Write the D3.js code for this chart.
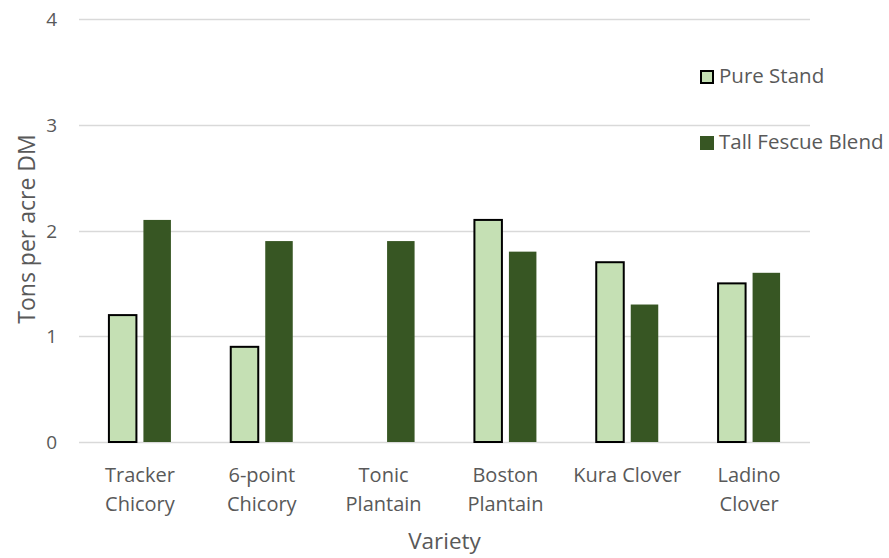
<!DOCTYPE html>
<html>
<head>
<meta charset="utf-8">
<script src="https://cdn.jsdelivr.net/npm/d3@7"></script>
<style>
  html, body { margin: 0; padding: 0; background: #fff; }
  svg { display: block; }
  text { font-family: "Open Sans", "Noto Sans", sans-serif; fill: #595959; }
</style>
</head>
<body>
<svg id="chart" width="889" height="558"></svg>
<script>
// Forage yield by variety, tons of dry matter per acre
const varieties = [
  ["Tracker", "Chicory"],
  ["6-point", "Chicory"],
  ["Tonic", "Plantain"],
  ["Boston", "Plantain"],
  ["Kura Clover"],
  ["Ladino", "Clover"]
];
const pureStand = [1.2, 0.9, 0, 2.1, 1.7, 1.5];
const tallFescueBlend = [2.1, 1.9, 1.9, 1.8, 1.3, 1.6];
const seriesNames = ["Pure Stand", "Tall Fescue Blend"];
const yTicks = [0, 1, 2, 3, 4];

const svg = d3.select("#chart");
const plot = { left: 79, right: 810, top: 19, bottom: 442 };

const x = d3.scaleBand()
  .domain(d3.range(varieties.length))
  .range([plot.left, plot.right]);

const y = d3.scaleLinear().domain([0, 4]).range([plot.bottom, plot.top]);

const barW = 27.5, gap = 7;
const series = [
  { name: seriesNames[0], values: pureStand, fill: "#C5E0B4", stroke: "#000", sw: 2, offset: -(gap / 2 + barW) },
  { name: seriesNames[1], values: tallFescueBlend, fill: "#375623", stroke: "none", sw: 0, offset: gap / 2 }
];

// horizontal gridlines
svg.append("g").selectAll("line")
  .data(yTicks)
  .join("line")
  .attr("x1", plot.left).attr("x2", plot.right)
  .attr("y1", d => Math.round(y(d)) + 0.5).attr("y2", d => Math.round(y(d)) + 0.5)
  .attr("stroke", "#D9D9D9").attr("stroke-width", 1.3);

// y tick labels
const yAxis = d3.axisLeft(y).tickValues(yTicks).tickSize(0).tickPadding(0).tickFormat(d3.format("d"));
const gy = svg.append("g").attr("transform", `translate(${plot.left - 22},0)`).call(yAxis);
gy.select(".domain").remove();
gy.selectAll("text").attr("font-size", 19).attr("dy", "0.35em")
  .style("font-family", '"Open Sans", sans-serif').attr("fill", "#595959");

// bars
series.forEach(s => {
  svg.append("g").selectAll("rect")
    .data(s.values.map((v, i) => ({ v, i })).filter(d => d.v > 0))
    .join("rect")
    .attr("x", d => x(d.i) + x.bandwidth() / 2 + s.offset)
    .attr("y", d => y(d.v))
    .attr("width", barW)
    .attr("height", d => y(0) - y(d.v))
    .attr("fill", s.fill)
    .attr("stroke", s.stroke)
    .attr("stroke-width", s.sw);
});

// category labels
const xl = svg.append("g");
varieties.forEach((lines, i) => {
  const t = xl.append("text")
    .attr("x", x(i) + x.bandwidth() / 2)
    .attr("y", 482)
    .attr("text-anchor", "middle")
    .attr("font-size", 20);
  lines.forEach((ln, j) => {
    t.append("tspan").attr("x", x(i) + x.bandwidth() / 2).attr("dy", j === 0 ? 0 : 28.5).text(ln);
  });
});

// axis titles
svg.append("text")
  .attr("x", (plot.left + plot.right) / 2)
  .attr("y", 549)
  .attr("text-anchor", "middle")
  .attr("font-size", 22.5)
  .text("Variety");

svg.append("text")
  .attr("transform", `translate(35,229) rotate(-90)`)
  .attr("text-anchor", "middle")
  .attr("font-size", 23)
  .text("Tons per acre DM");

// legend
const legend = svg.append("g");
const legendY = [83, 149];
series.forEach((s, i) => {
  const g = legend.append("g").attr("transform", `translate(700,${legendY[i]})`);
  g.append("rect")
    .attr("x", s.sw ? 1 : 0).attr("y", -13 + (s.sw ? 1 : 0))
    .attr("width", s.sw ? 12 : 14).attr("height", s.sw ? 12 : 14)
    .attr("fill", s.fill).attr("stroke", s.stroke).attr("stroke-width", s.sw);
  g.append("text").attr("x", 19).attr("y", 0)
    .attr("font-size", 20.5).text(s.name);
});
</script>
</body>
</html>
